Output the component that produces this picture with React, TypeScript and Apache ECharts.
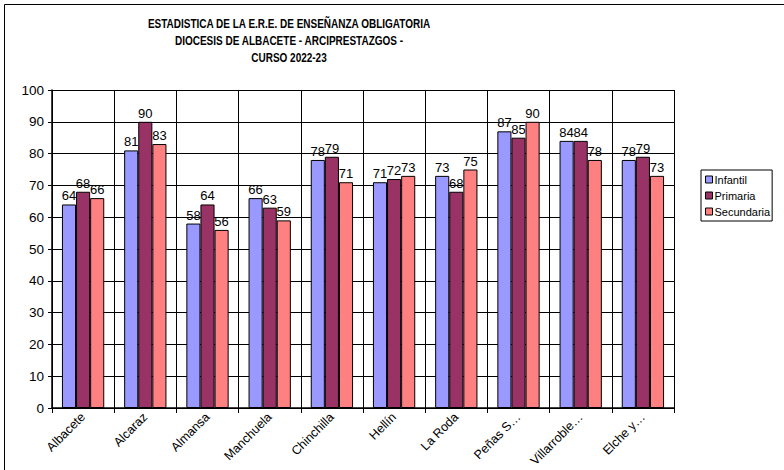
import React, { useEffect, useRef } from "react";
import * as echarts from "echarts";

const titleLines = [
  "ESTADISTICA DE LA E.R.E. DE ENSEÑANZA OBLIGATORIA",
  "DIOCESIS DE ALBACETE - ARCIPRESTAZGOS -",
  "CURSO 2022-23",
];
const categories = [
  "Albacete",
  "Alcaraz",
  "Almansa",
  "Manchuela",
  "Chinchilla",
  "Hellín",
  "La Roda",
  "Peñas S…",
  "Villarroble…",
  "Elche y…",
];
const seriesNames = ["Infantil", "Primaria", "Secundaria"];
const infantil = [64, 81, 58, 66, 78, 71, 73, 87, 84, 78];
const primaria = [68, 90, 64, 63, 79, 72, 68, 85, 84, 79];
const secundaria = [66, 83, 56, 59, 71, 73, 75, 90, 78, 73];
const colors = ["#9999FF", "#993366", "#FF8080"];

export default function App() {
  const ref = useRef<HTMLDivElement>(null);
  useEffect(() => {
    if (!ref.current) return;
    const chart = echarts.init(ref.current, null, { renderer: "svg" });
    const font = "Liberation Sans, Arial, sans-serif";
    const mk = (name: string, data: number[], i: number) => ({
      name,
      type: "bar",
      data,
      barGap: "0%",
      barCategoryGap: "32%",
      itemStyle: { color: colors[i], borderColor: "#000", borderWidth: 1 },
      label: {
        show: true,
        position: "top",
        distance: 2,
        color: "#000",
        fontSize: 13,
        fontFamily: font,
      },
    });
    chart.setOption({
      animation: false,
      backgroundColor: "#fff",
      textStyle: { fontFamily: font },
      graphic: [
        {
          type: "rect",
          shape: { x: 4.5, y: 4.5, width: 800, height: 500 },
          style: { fill: "none", stroke: "#000", lineWidth: 1 },
          silent: true,
        },
        ...titleLines.map((t, i) => ({
          type: "text",
          x: 289,
          y: 17 + i * 17,
          scaleX: 0.8,
          style: {
            text: t,
            fill: "#000",
            font: "bold 12.5px 'Liberation Sans', Arial, sans-serif",
            textAlign: "center",
            textVerticalAlign: "top",
          },
        })),
      ],
      legend: {
        orient: "vertical",
        left: 701,
        top: 170,
        data: seriesNames,
        icon: "rect",
        itemWidth: 7,
        itemHeight: 7,
        itemGap: 5,
        backgroundColor: "#fff",
        borderColor: "#000",
        borderWidth: 1,
        borderRadius: 0,
        padding: [4, 2, 4, 4],
        itemStyle: { borderColor: "#000", borderWidth: 1 },
        textStyle: { fontSize: 11, color: "#000", padding: [0, 0, 0, -3], fontFamily: font },
      },
      grid: {
        left: 52,
        right: 110,
        top: 90,
        bottom: 62,
        containLabel: false,
        outerBoundsMode: "none",
      },
      xAxis: {
        type: "category",
        data: categories,
        axisLine: { show: true, lineStyle: { color: "#000", width: 1.5 } },
        axisTick: { show: true, length: 5, lineStyle: { color: "#000" }, alignWithLabel: false },
        splitLine: { show: true, lineStyle: { color: "#000", width: 1 } },
        axisLabel: {
          rotate: 45,
          interval: 0,
          color: "#000",
          fontSize: 12.5,
          margin: 7,
          fontFamily: font,
        },
      },
      yAxis: {
        type: "value",
        min: 0,
        max: 100,
        interval: 10,
        axisLine: { show: true, lineStyle: { color: "#000", width: 1.5 } },
        axisTick: { show: true, length: 4, lineStyle: { color: "#000" } },
        splitLine: { show: true, lineStyle: { color: "#000", width: 1 } },
        axisLabel: { color: "#000", fontSize: 13.5, margin: 8, fontFamily: font },
      },
      series: [
        mk(seriesNames[0], infantil, 0),
        mk(seriesNames[1], primaria, 1),
        mk(seriesNames[2], secundaria, 2),
      ],
    });
    return () => chart.dispose();
  }, []);
  return (
    <div
      ref={ref}
      style={{ position: "absolute", left: 0, top: 0, width: 784, height: 470 }}
    />
  );
}
